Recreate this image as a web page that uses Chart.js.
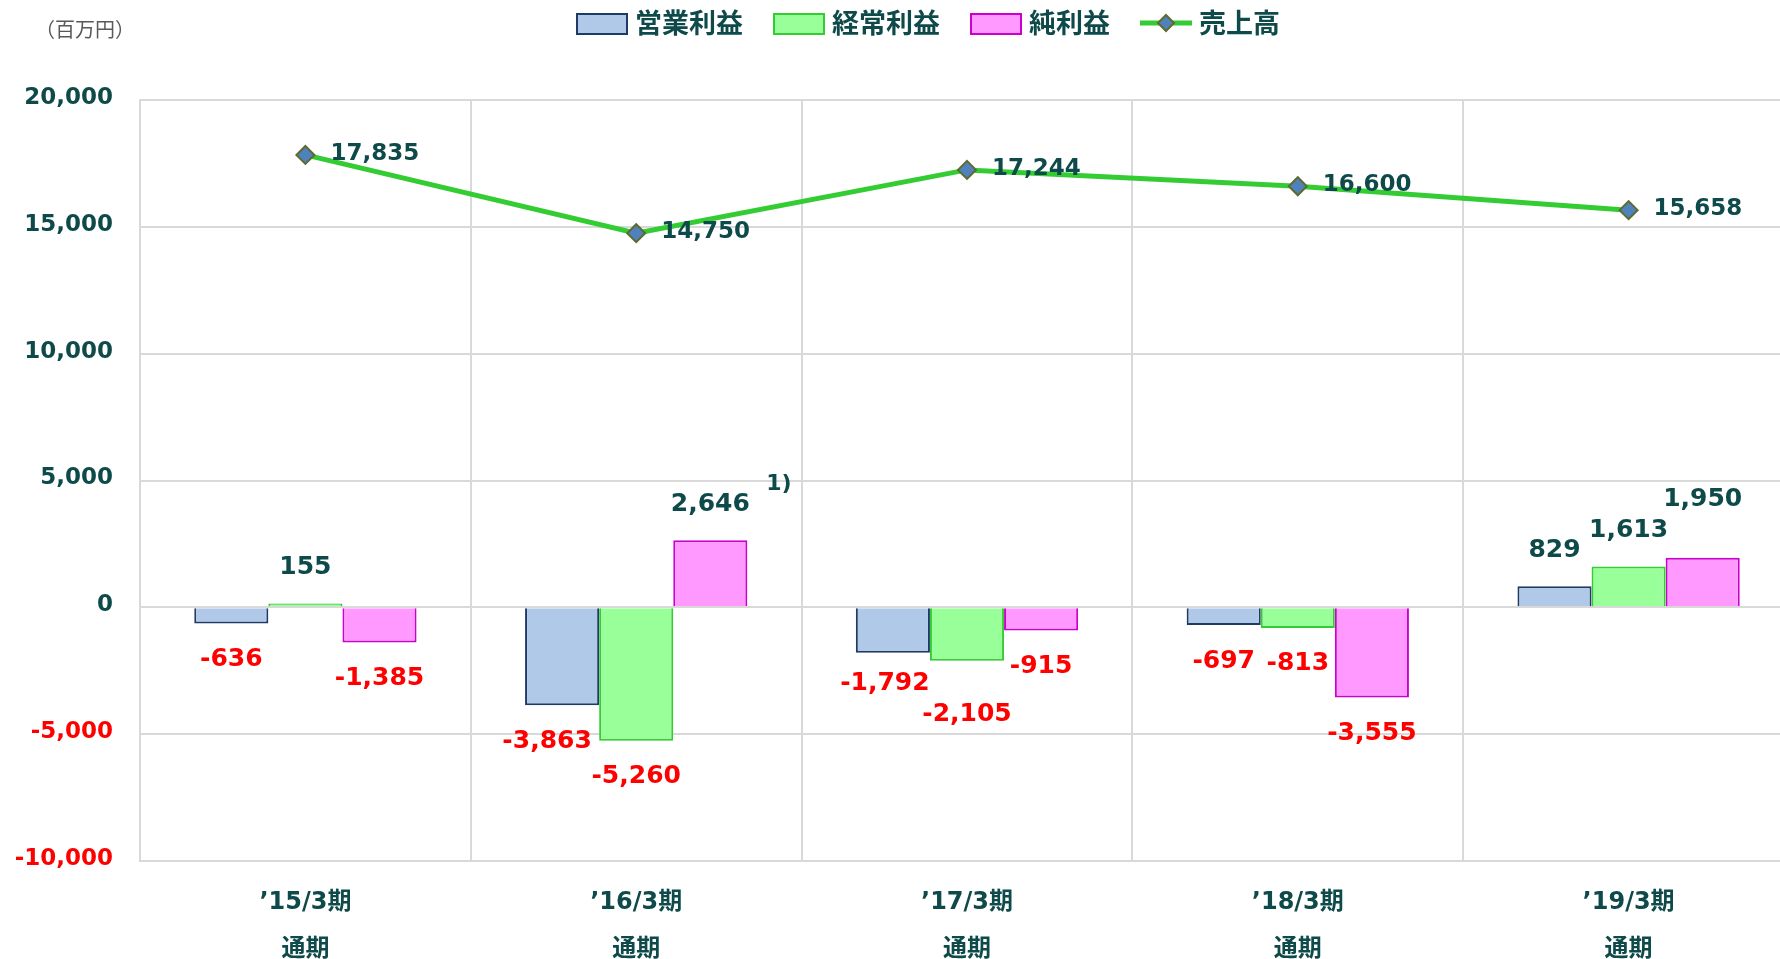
<!DOCTYPE html>
<html lang="ja">
<head>
<meta charset="utf-8">
<title>業績推移</title>
<script src="https://cdn.jsdelivr.net/npm/chart.js@4/dist/chart.umd.min.js"></script>
<style>
  html, body { margin: 0; padding: 0; background: #fff; overflow: hidden; }
  .canvas-container { width: 1794px; height: 959px; }
</style>
</head>
<body>
<div class="canvas-container">
  <canvas id="chart" width="1794" height="959"></canvas>
</div>
<script>
const periods = ["\u201915/3期", "\u201916/3期", "\u201917/3期", "\u201918/3期", "\u201919/3期"];
const periodSub = "通期";
const operatingProfit = [-636, -3863, -1792, -697, 829];
const ordinaryProfit = [155, -5260, -2105, -813, 1613];
const netProfit = [-1385, 2646, -915, -3555, 1950];
const sales = [17835, 14750, 17244, 16600, 15658];
const seriesNames = ["営業利益", "経常利益", "純利益", "売上高"];
const yTicks = [-10000, -5000, 0, 5000, 10000, 15000, 20000];
const unitLabel = "（百万円）";

const TEAL = "#0f4a4a";
const RED = "#ff0000";
const GRID = "#d9d9d9";
const NUM_FONT = "'DejaVu Sans', Verdana, sans-serif";
const JP_FONT = "'Noto Sans CJK JP', sans-serif";
const X_FONT = "'DejaVu Sans', 'Noto Sans CJK JP', sans-serif";

function fmt(v) {
  return v.toLocaleString("en-US");
}

// labels that were moved by hand in the original (dataset-index -> [dx, dy])
const labelNudge = {
  "0-1": [-15, 0],
  "0-2": [-8, -5],
  "1-2": [0, 18],
  "2-4": [0, -22],
};

const barLabels = {
  id: "barLabels",
  afterDatasetsDraw(chart) {
    const ctx = chart.ctx;
    ctx.save();
    ctx.textBaseline = "middle";
    chart.data.datasets.forEach((ds, di) => {
      const meta = chart.getDatasetMeta(di);
      if (ds.type === "line") {
        ctx.font = "bold 23px " + NUM_FONT;
        ctx.fillStyle = TEAL;
        ctx.textAlign = "left";
        meta.data.forEach((pt, i) => {
          ctx.fillText(fmt(ds.data[i]), pt.x + 25, pt.y - 1);
        });
        return;
      }
      ctx.font = "bold 25px " + NUM_FONT;
      ctx.textAlign = "center";
      meta.data.forEach((bar, i) => {
        const v = ds.data[i];
        const n = labelNudge[di + "-" + i] || [0, 0];
        const y = v < 0 ? bar.y + 36 : bar.y - 36;
        ctx.fillStyle = v < 0 ? RED : TEAL;
        ctx.fillText(fmt(v), bar.x + n[0], y + n[1]);
      });
    });
    // footnote mark beside the 純利益 '16/3 label
    const noteBar = chart.getDatasetMeta(2).data[1];
    ctx.font = "bold 22px " + NUM_FONT;
    ctx.fillStyle = TEAL;
    ctx.textAlign = "left";
    ctx.fillText("1)", noteBar.x + 56, noteBar.y - 56);
    ctx.restore();
  },
};

const topLegend = {
  id: "topLegend",
  afterDraw(chart) {
    const ctx = chart.ctx;
    const items = chart.data.datasets;
    const iconW = 52, gapIcon = 7, gapItem = 30, cy = 23, centerX = 928;
    ctx.save();
    ctx.font = "bold 27px " + JP_FONT;
    ctx.textBaseline = "middle";
    let total = 0;
    items.forEach((ds, i) => {
      total += iconW + gapIcon + ctx.measureText(ds.label).width + (i ? gapItem : 0);
    });
    let x = centerX - total / 2;
    items.forEach((ds) => {
      if (ds.type === "line") {
        ctx.strokeStyle = ds.borderColor;
        ctx.lineWidth = 5;
        ctx.beginPath();
        ctx.moveTo(x, cy);
        ctx.lineTo(x + iconW, cy);
        ctx.stroke();
        const mx = x + iconW / 2, r = 8;
        ctx.beginPath();
        ctx.moveTo(mx - r, cy);
        ctx.lineTo(mx, cy - r);
        ctx.lineTo(mx + r, cy);
        ctx.lineTo(mx, cy + r);
        ctx.closePath();
        ctx.fillStyle = ds.pointBackgroundColor;
        ctx.fill();
        ctx.lineWidth = 2;
        ctx.strokeStyle = ds.pointBorderColor;
        ctx.stroke();
      } else {
        ctx.fillStyle = ds.backgroundColor;
        ctx.fillRect(x + 1, cy - 9, iconW - 2, 20);
        ctx.lineWidth = 2;
        ctx.strokeStyle = ds.borderColor;
        ctx.strokeRect(x + 1, cy - 9, iconW - 2, 20);
      }
      x += iconW + gapIcon;
      ctx.fillStyle = TEAL;
      ctx.fillText(ds.label, x, cy);
      x += ctx.measureText(ds.label).width + gapItem;
    });
    // unit label
    ctx.font = "20px " + JP_FONT;
    ctx.fillStyle = "#595959";
    ctx.fillText(unitLabel, 35, 29);
    ctx.restore();
  },
};

new Chart(document.getElementById("chart"), {
  type: "bar",
  data: {
    labels: periods.map((p) => [p, periodSub]),
    datasets: [
      {
        label: seriesNames[0],
        data: operatingProfit,
        order: 1,
        backgroundColor: "#b0c9e9",
        borderColor: "#1f3a64",
        borderWidth: 2,
      },
      {
        label: seriesNames[1],
        data: ordinaryProfit,
        order: 1,
        backgroundColor: "#99ff99",
        borderColor: "#33cc33",
        borderWidth: 2,
      },
      {
        label: seriesNames[2],
        data: netProfit,
        order: 1,
        backgroundColor: "#ff99ff",
        borderColor: "#cc00cc",
        borderWidth: 2,
      },
      {
        type: "line",
        label: seriesNames[3],
        data: sales,
        order: 0,
        borderColor: "#33cc33",
        borderWidth: 5,
        pointStyle: "rectRot",
        pointRadius: 9,
        pointBorderWidth: 2,
        pointBackgroundColor: "#4f81bd",
        pointBorderColor: "#5e6b2f",
        tension: 0,
      },
    ],
  },
  options: {
    responsive: false,
    animation: false,
    layout: { autoPadding: false, padding: { top: 100, right: 0, left: 0, bottom: 0 } },
    datasets: {
      bar: { categoryPercentage: 0.672, barPercentage: 1 },
    },
    scales: {
      x: {
        offset: true,
        grid: { offset: true, color: GRID, lineWidth: 2, drawTicks: false },
        border: { color: GRID, width: 2 },
        ticks: {
          padding: 18,
          color: TEAL,
          font: { family: X_FONT, weight: "bold", size: 24, lineHeight: "47px" },
        },
        afterFit(scale) {
          scale.height = 98;
        },
      },
      y: {
        min: yTicks[0],
        max: yTicks[yTicks.length - 1],
        afterBuildTicks(scale) {
          scale.ticks = yTicks.map((v) => ({ value: v }));
        },
        grid: { color: GRID, lineWidth: 2, drawTicks: false },
        border: { color: GRID, width: 2 },
        ticks: {
          padding: 27,
          labelOffset: -2,
          color: (c) => (c.tick.value < 0 ? RED : TEAL),
          font: { family: NUM_FONT, weight: "bold", size: 23 },
          callback: (v) => fmt(v),
        },
        afterFit(scale) {
          scale.width = 140;
        },
      },
    },
    plugins: {
      legend: { display: false },
      tooltip: { enabled: false },
    },
  },
  plugins: [barLabels, topLegend],
});
</script>
</body>
</html>
